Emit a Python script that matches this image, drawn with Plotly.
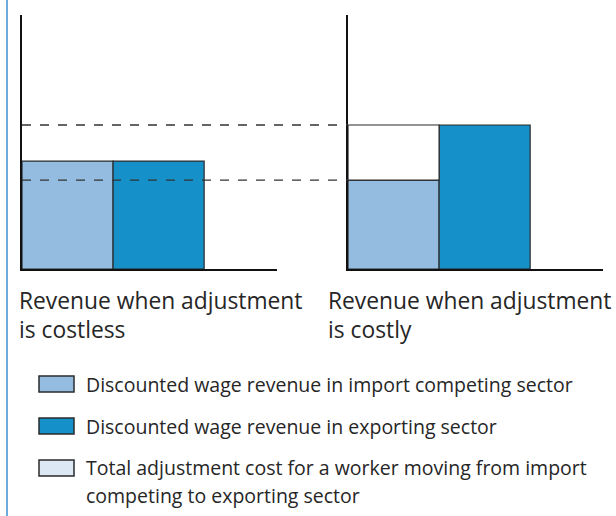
import plotly.graph_objects as go

# Data
sectors = ["Import competing", "Exporting"]
costless_revenue = [4.25, 4.25]
costly_import = 3.5
costly_export = 5.67
adjustment_cost = costly_export - costly_import

panel_title_lines = [["Revenue when adjustment", "is costless"], ["Revenue when adjustment", "is costly"]]
legend_lines = [
    ["Discounted wage revenue in import competing sector"],
    ["Discounted wage revenue in exporting sector"],
    ["Total adjustment cost for a worker moving from import", "competing to exporting sector"],
]

LIGHT = "#93bce0"
DARK = "#1590c9"
PALE = "#dce8f4"
EDGE = "#2b2b2b"
FONT = "Open Sans"
TXT = "#262626"

W, H = 616, 516

def px(x):
    return x / W

def py(y):
    return 1 - y / H

xs = [0.5, 1.5]

fig = go.Figure()
# Left panel
fig.add_trace(go.Bar(x=xs, y=costless_revenue, width=1, marker=dict(color=[LIGHT, DARK], line=dict(color=EDGE, width=1.2)),
                     xaxis="x", yaxis="y", showlegend=False, hoverinfo="skip"))
# Right panel
fig.add_trace(go.Bar(x=xs, y=[costly_import, costly_export], width=1, marker=dict(color=[LIGHT, DARK], line=dict(color=EDGE, width=1.2)),
                     xaxis="x2", yaxis="y2", showlegend=False, hoverinfo="skip"))
fig.add_trace(go.Bar(x=[xs[0]], y=[adjustment_cost], base=[costly_import], width=1,
                     marker=dict(color="#ffffff", line=dict(color=EDGE, width=1.2)),
                     xaxis="x2", yaxis="y2", showlegend=False, hoverinfo="skip"))

ydom = [py(269), py(15)]
axis_common = dict(showgrid=False, zeroline=False, showticklabels=False, ticks="",
                   showline=True, linecolor="#111111", linewidth=1.6, fixedrange=True)
fig.update_layout(
    width=W, height=H, margin=dict(l=0, r=0, t=0, b=0),
    paper_bgcolor="white", plot_bgcolor="white",
    barmode="overlay",
    xaxis=dict(domain=[px(22), px(277)], range=[0, 2.8], anchor="y", **axis_common),
    yaxis=dict(domain=ydom, range=[0, 10], anchor="x", **axis_common),
    xaxis2=dict(domain=[px(348), px(603)], range=[0, 2.8], anchor="y2", **axis_common),
    yaxis2=dict(domain=ydom, range=[0, 10], anchor="x2", **axis_common),
)

shapes = []
for val in [costly_import, costly_export]:
    shapes.append(dict(type="line", xref="paper", yref="y", x0=px(22), x1=px(348), y0=val, y1=val,
                       line=dict(color="#333333", width=1.3, dash="dash"), layer="above"))
shapes.append(dict(type="line", xref="paper", yref="paper", x0=px(7), x1=px(7), y0=0, y1=1,
                   line=dict(color="#3b8fd0", width=1.5)))
sw_colors = [LIGHT, DARK, PALE]
sw_tops = [376, 418, 460]
for c, t in zip(sw_colors, sw_tops):
    shapes.append(dict(type="rect", xref="paper", yref="paper", x0=px(39), x1=px(74), y0=py(t + 16), y1=py(t),
                       fillcolor=c, line=dict(color=EDGE, width=1.5)))

annotations = []
for lines, x in zip(panel_title_lines, [17, 326]):
    for i, line in enumerate(lines):
        annotations.append(dict(text=line, xref="paper", yref="paper", x=px(x), y=py(300 + 29.5 * i),
                                xanchor="left", yanchor="middle", showarrow=False, align="left",
                                font=dict(family=FONT, size=22.8, color=TXT)))
legend_centres = [384, 426, 467]
for lines, c in zip(legend_lines, legend_centres):
    for i, line in enumerate(lines):
        annotations.append(dict(text=line, xref="paper", yref="paper", x=px(84), y=py(c + 28 * i),
                                xanchor="left", yanchor="middle", showarrow=False, align="left",
                                font=dict(family=FONT, size=19.5, color=TXT)))

fig.update_layout(shapes=shapes, annotations=annotations)
fig.write_html("out.html", config={"displayModeBar": False, "staticPlot": True},
               post_script="document.body.style.margin='0px';")
